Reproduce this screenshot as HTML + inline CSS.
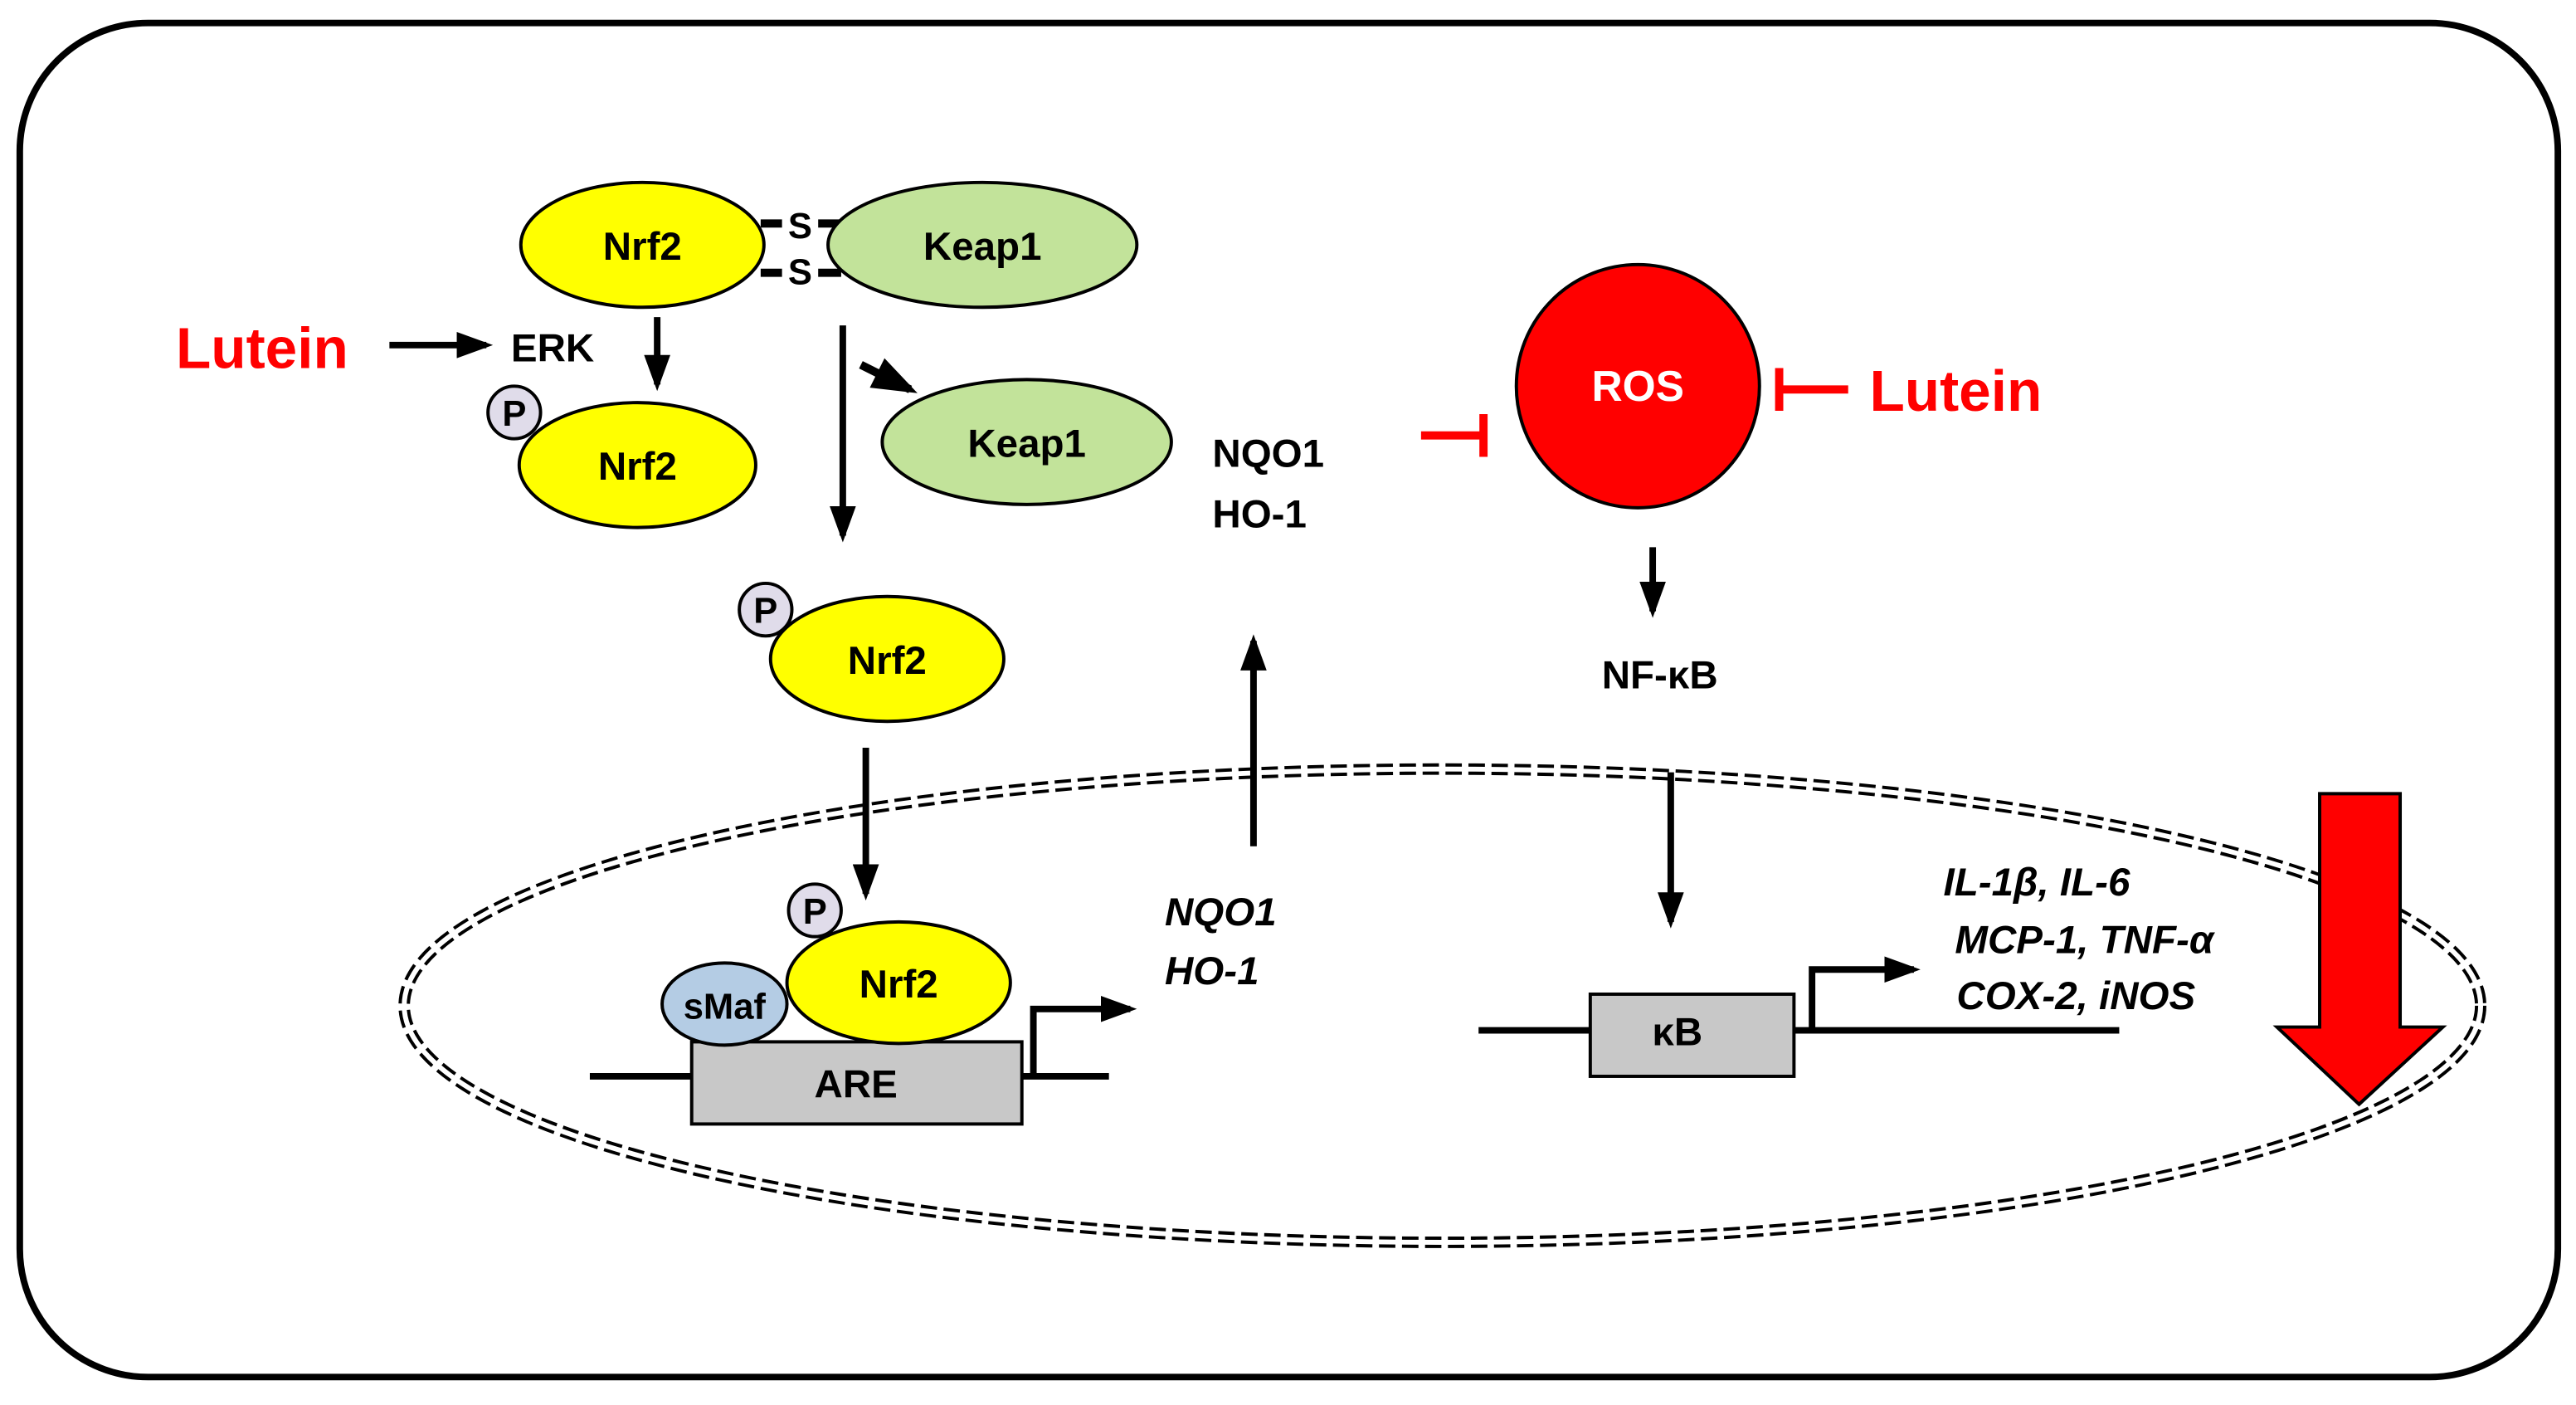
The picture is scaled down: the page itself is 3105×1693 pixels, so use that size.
<!DOCTYPE html>
<html><head><style>html,body{margin:0;padding:0;background:#fff}svg{display:block}</style></head>
<body>
<svg width="3105" height="1693" viewBox="0 0 1568 855" xmlns="http://www.w3.org/2000/svg" font-family="Liberation Sans, Arial, sans-serif" font-weight="bold">
<defs>
<marker id="ah" markerWidth="5.5" markerHeight="4" refX="4.5" refY="2" orient="auto" markerUnits="strokeWidth"><path d="M0,0 L5.5,2 L0,4 z" fill="#000"/></marker>
</defs>
<rect x="12" y="14" width="1545" height="824" rx="78" fill="#fff" stroke="#000" stroke-width="4"/>
<ellipse cx="878" cy="612" rx="632" ry="144" fill="none" stroke="#000" stroke-width="7" stroke-dasharray="10,4"/>
<ellipse cx="878" cy="612" rx="632" ry="144" fill="none" stroke="#fff" stroke-width="3"/>
<line x1="463" y1="136" x2="512" y2="136" stroke="#000" stroke-width="5"/>
<line x1="463" y1="166" x2="512" y2="166" stroke="#000" stroke-width="5"/>
<rect x="476" y="126" width="22" height="50" fill="#fff"/>
<text x="487" y="145" font-size="22" text-anchor="middle">S</text>
<text x="487" y="173" font-size="22" text-anchor="middle">S</text>
<ellipse cx="391" cy="149" rx="74" ry="38" fill="#ffff00" stroke="#000" stroke-width="2"/>
<text x="391" y="158" font-size="24" text-anchor="middle">Nrf2</text>
<ellipse cx="598" cy="149" rx="94" ry="38" fill="#c2e39a" stroke="#000" stroke-width="2"/>
<text x="598" y="158" font-size="24" text-anchor="middle">Keap1</text>
<text x="107" y="224" font-size="35" fill="#ff0000">Lutein</text>
<line x1="237" y1="210" x2="296" y2="210" stroke="#000" stroke-width="4" marker-end="url(#ah)"/>
<text x="311" y="220" font-size="24">ERK</text>
<line x1="400" y1="193" x2="400" y2="234" stroke="#000" stroke-width="4" marker-end="url(#ah)"/>
<ellipse cx="388" cy="283" rx="72" ry="38" fill="#ffff00" stroke="#000" stroke-width="2"/>
<circle cx="313" cy="251" r="16" fill="#e0dcea" stroke="#000" stroke-width="2"/>
<text x="313" y="259" font-size="22" text-anchor="middle">P</text>
<text x="388" y="292" font-size="24" text-anchor="middle">Nrf2</text>
<line x1="513" y1="198" x2="513" y2="326" stroke="#000" stroke-width="4" marker-end="url(#ah)"/>
<line x1="524" y1="222" x2="554" y2="237" stroke="#000" stroke-width="5" marker-end="url(#ah)"/>
<ellipse cx="625" cy="269" rx="88" ry="38" fill="#c2e39a" stroke="#000" stroke-width="2"/>
<text x="625" y="278" font-size="24" text-anchor="middle">Keap1</text>
<text x="738" y="284" font-size="24">NQO1</text>
<text x="738" y="321" font-size="24">HO-1</text>
<line x1="865" y1="265" x2="903" y2="265" stroke="#ff0000" stroke-width="5"/>
<line x1="903" y1="252" x2="903" y2="278" stroke="#ff0000" stroke-width="5"/>
<circle cx="997" cy="235" r="74" fill="#ff0000" stroke="#000" stroke-width="2"/>
<text x="997" y="244" font-size="26" fill="#fff" text-anchor="middle">ROS</text>
<line x1="1083" y1="237" x2="1125" y2="237" stroke="#ff0000" stroke-width="5"/>
<line x1="1083" y1="224" x2="1083" y2="250" stroke="#ff0000" stroke-width="5"/>
<text x="1138" y="250" font-size="35" fill="#ff0000">Lutein</text>
<line x1="1006" y1="333" x2="1006" y2="372" stroke="#000" stroke-width="4" marker-end="url(#ah)"/>
<text x="975" y="419" font-size="24">NF-κB</text>
<ellipse cx="540" cy="401" rx="71" ry="38" fill="#ffff00" stroke="#000" stroke-width="2"/>
<circle cx="466" cy="371" r="16" fill="#e0dcea" stroke="#000" stroke-width="2"/>
<text x="466" y="379" font-size="22" text-anchor="middle">P</text>
<text x="540" y="410" font-size="24" text-anchor="middle">Nrf2</text>
<line x1="527" y1="455" x2="527" y2="544" stroke="#000" stroke-width="4" marker-end="url(#ah)"/>
<line x1="763" y1="515" x2="763" y2="390" stroke="#000" stroke-width="4" marker-end="url(#ah)"/>
<line x1="1017" y1="470" x2="1017" y2="561" stroke="#000" stroke-width="4" marker-end="url(#ah)"/>
<line x1="359" y1="655" x2="675" y2="655" stroke="#000" stroke-width="4"/>
<rect x="421" y="634" width="201" height="50" fill="#c8c8c8" stroke="#000" stroke-width="2"/>
<text x="521" y="668" font-size="24" text-anchor="middle">ARE</text>
<ellipse cx="441" cy="611" rx="38" ry="25" fill="#b4cce4" stroke="#000" stroke-width="2"/>
<text x="441" y="620" font-size="22" text-anchor="middle">sMaf</text>
<ellipse cx="547" cy="598" rx="68" ry="37" fill="#ffff00" stroke="#000" stroke-width="2"/>
<circle cx="496" cy="554" r="16" fill="#e0dcea" stroke="#000" stroke-width="2"/>
<text x="496" y="562" font-size="22" text-anchor="middle">P</text>
<text x="547" y="607" font-size="24" text-anchor="middle">Nrf2</text>
<polyline points="629,655 629,614 688,614" fill="none" stroke="#000" stroke-width="4" marker-end="url(#ah)"/>
<text x="709" y="563" font-size="24" font-style="italic">NQO1</text>
<text x="709" y="599" font-size="24" font-style="italic">HO-1</text>
<line x1="900" y1="627" x2="1290" y2="627" stroke="#000" stroke-width="4"/>
<rect x="968" y="605" width="124" height="50" fill="#c8c8c8" stroke="#000" stroke-width="2"/>
<text x="1021" y="636" font-size="24" text-anchor="middle">κB</text>
<polyline points="1103,627 1103,590 1165,590" fill="none" stroke="#000" stroke-width="4" marker-end="url(#ah)"/>
<text x="1183" y="545" font-size="24" font-style="italic">IL-1β, IL-6</text>
<text x="1190" y="580" font-size="24" font-style="italic">MCP-1, TNF-α</text>
<text x="1191" y="614" font-size="24" font-style="italic">COX-2, iNOS</text>
<polygon points="1412,483 1461,483 1461,625 1487,625 1436,672 1386,625 1412,625" fill="#ff0000" stroke="#000" stroke-width="2"/>
</svg>
</body></html>
